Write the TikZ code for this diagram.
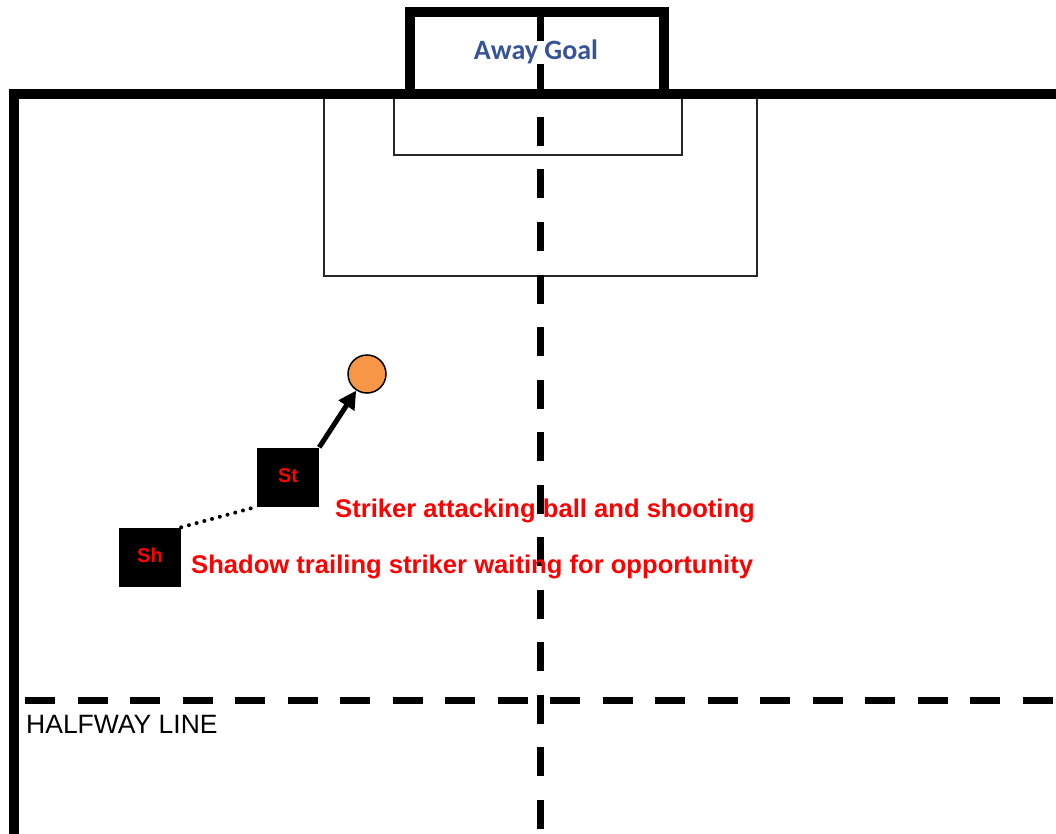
\documentclass[tikz,border=0pt]{standalone}
\usepackage{fontspec}
\setmainfont{Liberation Sans}
\newfontfamily\goalfont{Carlito}
\usetikzlibrary{arrows.meta}
\definecolor{goalblue}{RGB}{54,84,150}
\definecolor{ballorange}{RGB}{247,150,70}
\begin{document}
\begin{tikzpicture}[x=1pt,y=-1pt,
  thickline/.style={line width=10pt},
  thinline/.style={line width=2pt,draw=black!85},
  centreline/.style={line width=7pt,dash pattern=on 29pt off 23.5pt},
  halfline/.style={line width=7pt,dash pattern=on 30pt off 22.5pt},
  player/.style={fill=black,minimum width=62pt,minimum height=59pt,inner sep=0pt,
    text=red,font=\bfseries\fontsize{20}{22}\selectfont},
  note/.style={text=red,font=\bfseries\fontsize{25.6}{28}\selectfont,anchor=west,inner sep=0pt},
  ballstyle/.style={circle,draw=black,line width=1.5pt,fill=ballorange,minimum size=38pt,inner sep=0pt}]
\useasboundingbox (0,0) rectangle (1056,834);
% penalty area and goal area
\draw[thinline] (324,94) rectangle (757,276);
\draw[thinline] (394,94) rectangle (682,155);
% goal frame
\draw[thickline] (410,94) -- (410,12) -- (664,12) -- (664,94);
% touchline and side line
\draw[thickline] (14,834) -- (14,94) -- (1056,94);
% centre line and halfway line
\draw[centreline] (540,12) -- (540,834);
\draw[halfline] (25,700) -- (1056,700);
% labels
\node[text=goalblue,font=\goalfont\bfseries\fontsize{28}{32}\selectfont] (goal) at (536,52) {Away Goal};
\node[font=\fontsize{26.5}{30}\selectfont,anchor=west,inner sep=0pt] (half) at (26,724) {HALFWAY LINE};
% players and ball
\node[player] (St) at (288,477) {\raisebox{3pt}{St}};
\node[player] (Sh) at (150,557) {\raisebox{3pt}{Sh}};
\node[ballstyle] (ball) at (367,374) {};
\draw[line width=5pt,-{Triangle[length=18pt,width=18pt]}] (St.north east) -- (ball);
\draw[line width=4pt,line cap=round,dash pattern=on 0pt off 8pt] (Sh.north east) -- (St.south west);
\node[note] (t1) at (335,511) {Striker attacking ball and shooting};
\node[note] (t2) at (191,567) {Shadow trailing striker waiting for opportunity};
\end{tikzpicture}
\end{document}
